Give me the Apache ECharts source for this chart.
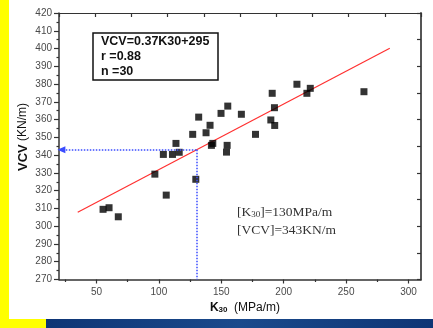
<!DOCTYPE html>
<html>
<head>
<meta charset="utf-8">
<script src="https://cdn.jsdelivr.net/npm/echarts@6/dist/echarts.min.js"></script>
<style>
  html, body { margin: 0; padding: 0; background: #fff; }
  #chart { width: 433px; height: 328px; }
</style>
</head>
<body>
<div id="chart"></div>
<script>
// K30 (MPa/m) and VCV (KN/m) for the 30 test points
const kVals   = [210.6, 190.8, 192.6, 155.2, 149.8, 166.1, 131.9, 189.7, 192.8, 141.0,
                 137.8, 127.1, 177.4, 143.2, 142.1, 154.7, 113.7, 116.3, 110.9, 103.6,
                 154.2,  96.8, 129.6, 105.9,  55.3,  60.1,  67.5, 221.3, 218.6, 264.3];
const vcvVals = [379.9, 374.8, 366.7, 367.6, 363.5, 363.0, 361.4, 359.8, 356.7, 356.8,
                 352.6, 351.7, 351.7, 346.6, 345.5, 345.5, 346.6, 341.6, 340.4, 340.4,
                 341.7, 329.3, 326.4, 317.5, 309.5, 310.4, 305.3, 377.6, 374.8, 375.7];

// regression line end points: VCV = 0.37 K30 + 295
const fitK   = [35, 285];
const fitVCV = [307.9, 400.2];

// design reference values
const refK = 130;
const refVCV = 343;

// tick labels
const xMajorTicks = [50, 100, 150, 200, 250, 300];
const xMinorTicks = [25, 75, 125, 175, 225, 275];

const points = kVals.map((k, i) => [k, vcvVals[i]]);
const fitLine = fitK.map((k, i) => [k, fitVCV[i]]);

const axisColor = '#333';
const labelFont = { fontFamily: 'Liberation Sans', fontSize: 10, color: '#4a4a4a' };

const chart = echarts.init(document.getElementById('chart'), null, { renderer: 'canvas' });

chart.setOption({
  backgroundColor: '#ffffff',
  animation: false,
  grid: { left: 59, right: 12, top: 13, bottom: 48.5, containLabel: false },
  xAxis: [
    {
      type: 'value', min: 20, max: 310, position: 'bottom',
      axisLine: { show: true, lineStyle: { color: axisColor, width: 1.5 } },
      axisTick: { show: true, inside: false, length: 4, customValues: xMajorTicks,
                  lineStyle: { color: axisColor, width: 1.2 } },
      axisLabel: Object.assign({ margin: 8, customValues: xMajorTicks }, labelFont),
      splitLine: { show: false }
    },
    {
      type: 'value', min: 0, max: 10, interval: 1, position: 'top',
      axisLine: { show: true, lineStyle: { color: axisColor, width: 1.2 } },
      axisTick: { show: true, inside: true, length: 4, lineStyle: { color: axisColor, width: 1.2 } },
      axisLabel: { show: false }, splitLine: { show: false }
    },
    {
      type: 'value', min: 20, max: 310, position: 'bottom',
      axisLine: { show: false },
      axisTick: { show: true, inside: false, length: 2.5, customValues: xMinorTicks,
                  lineStyle: { color: axisColor, width: 1.2 } },
      axisLabel: { show: false }, splitLine: { show: false }
    }
  ],
  yAxis: [
    {
      type: 'value', min: 270, max: 420, interval: 10, position: 'left',
      axisLine: { show: true, lineStyle: { color: axisColor, width: 1.5 } },
      axisTick: { show: true, inside: false, length: 5, lineStyle: { color: axisColor, width: 1.2 } },
      minorTick: { show: true, splitNumber: 2, length: 2.5, lineStyle: { color: axisColor, width: 1.2 } },
      axisLabel: Object.assign({ margin: 7 }, labelFont),
      splitLine: { show: false }
    },
    {
      type: 'value', min: 0, max: 10, interval: 1, position: 'right',
      axisLine: { show: true, lineStyle: { color: '#555', width: 2 } },
      axisTick: { show: true, inside: true, length: 4, lineStyle: { color: axisColor, width: 1.2 } },
      axisLabel: { show: false }, splitLine: { show: false }
    }
  ],
  series: [
    {
      type: 'line', xAxisIndex: 0, yAxisIndex: 0,
      data: fitLine, symbol: 'none', z: 3,
      lineStyle: { color: '#ff3030', width: 1.2 },
      markLine: {
        silent: true, animation: false,
        label: { show: false },
        lineStyle: { color: '#3a4cff', type: 'dotted', width: 1.5 },
        data: [
          [
            { coord: [refK, refVCV], symbol: 'none' },
            { coord: [21.9, refVCV], symbol: 'triangle', symbolSize: [7, 8], symbolRotate: 90 }
          ],
          [
            { coord: [refK, refVCV], symbol: 'none' },
            { coord: [refK, 270], symbol: 'none' }
          ]
        ]
      }
    },
    {
      type: 'scatter', xAxisIndex: 0, yAxisIndex: 0,
      data: points, symbol: 'rect', symbolSize: 7, z: 4,
      itemStyle: { color: '#000' }
    }
  ],
  graphic: [
    // page trim
    { type: 'rect', z: -10, silent: true, shape: { x: 0, y: 0, width: 9, height: 328 }, style: { fill: '#ffff00' } },
    { type: 'rect', z: -10, silent: true, shape: { x: 0, y: 319, width: 46, height: 9 }, style: { fill: '#ffff00' } },
    { type: 'rect', z: -10, silent: true, shape: { x: 46, y: 319, width: 387, height: 9 },
      style: { fill: new echarts.graphic.LinearGradient(0, 0, 1, 0, [
        { offset: 0, color: '#0e3575' }, { offset: 0.5, color: '#1a4a8c' }, { offset: 1, color: '#0e3575' }
      ]) } },
    // axis names
    {
      type: 'text', silent: true, x: 245, y: 308,
      style: {
        text: '{b|K}{s|30}{n|  (MPa/m)}', align: 'center', verticalAlign: 'middle',
        rich: {
          b: { fontFamily: 'Liberation Sans', fontWeight: 'bold', fontSize: 12, fill: '#111' },
          s: { fontFamily: 'Liberation Sans', fontWeight: 'bold', fontSize: 8, fill: '#111', verticalAlign: 'bottom' },
          n: { fontFamily: 'Liberation Sans', fontSize: 12, fill: '#111' }
        }
      }
    },
    {
      type: 'text', silent: true, x: 23, y: 137, rotation: Math.PI / 2,
      style: {
        text: '{b|VCV}{n| (KN/m)}', align: 'center', verticalAlign: 'middle',
        rich: {
          b: { fontFamily: 'Liberation Sans', fontWeight: 'bold', fontSize: 13, fill: '#111' },
          n: { fontFamily: 'Liberation Sans', fontSize: 12, fill: '#111' }
        }
      }
    },
    // regression summary box
    { type: 'rect', z: 5, silent: true, shape: { x: 93, y: 33, width: 125, height: 47 },
      style: { fill: '#fff', stroke: '#111', lineWidth: 1.5 } },
    { type: 'text', z: 6, silent: true, x: 101, y: 42,
      style: { text: 'VCV=0.37K30+295', verticalAlign: 'middle', fontFamily: 'Liberation Sans', fontWeight: 'bold', fontSize: 12.5, fill: '#111' } },
    { type: 'text', z: 6, silent: true, x: 101, y: 57,
      style: { text: 'r =0.88', verticalAlign: 'middle', fontFamily: 'Liberation Sans', fontWeight: 'bold', fontSize: 12.5, fill: '#111' } },
    { type: 'text', z: 6, silent: true, x: 101, y: 72,
      style: { text: 'n =30', verticalAlign: 'middle', fontFamily: 'Liberation Sans', fontWeight: 'bold', fontSize: 12.5, fill: '#111' } },
    // design reference notes
    { type: 'text', z: 6, silent: true, x: 237, y: 212,
      style: {
        text: '{n|[K}{s|30}{n|]=130MPa/m}', verticalAlign: 'middle',
        rich: {
          n: { fontFamily: 'Liberation Serif', fontSize: 13.5, fill: '#333' },
          s: { fontFamily: 'Liberation Serif', fontSize: 9, fill: '#333', verticalAlign: 'bottom' }
        }
      } },
    { type: 'text', z: 6, silent: true, x: 237, y: 230,
      style: { text: '[VCV]=343KN/m', verticalAlign: 'middle', fontFamily: 'Liberation Serif', fontSize: 13.5, fill: '#333' } }
  ]
});
</script>
</body>
</html>
